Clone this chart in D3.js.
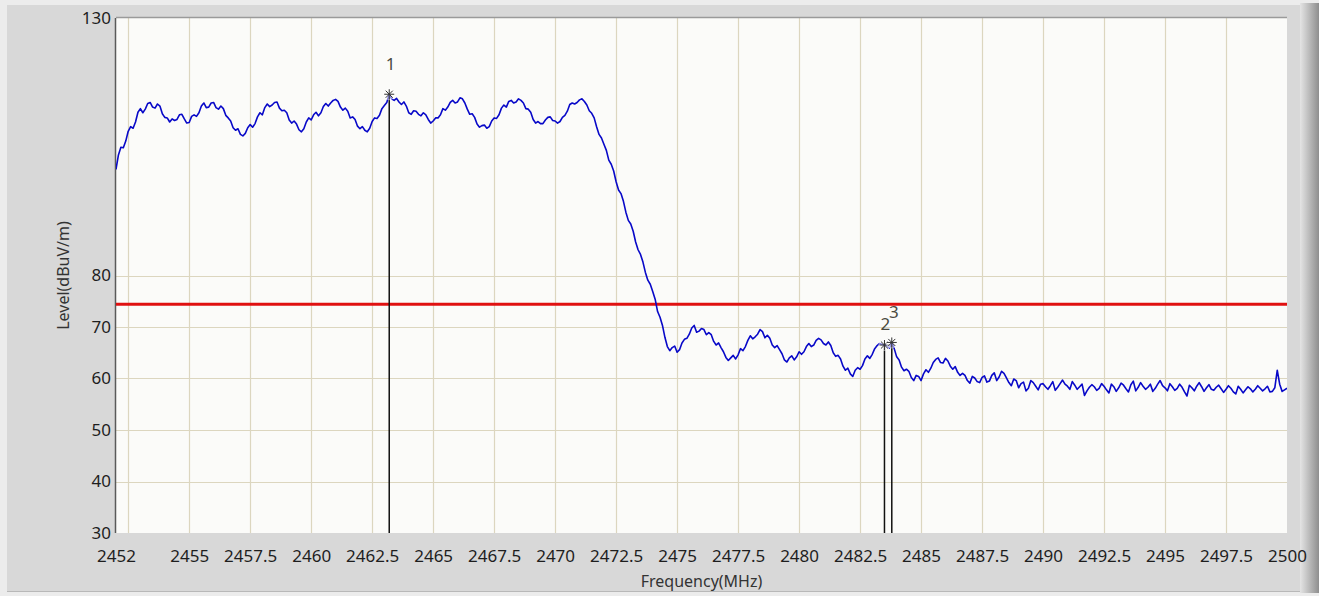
<!DOCTYPE html>
<html>
<head>
<meta charset="utf-8">
<script src="https://cdn.jsdelivr.net/npm/d3@7"></script>
<style>
  body { margin: 0; background: #ececec; overflow: hidden; }
  text { font-family: "Noto Sans", "DejaVu Sans", sans-serif; }
</style>
</head>
<body>
<svg id="chart" width="1319" height="596"></svg>
<script>
// Sweep: 2452 MHz to 2500 MHz, one reading every 0.1 MHz (dBuV/m)
const sweepStart = 2452;
const sweepStep = 0.1;
const levels = [
  100.6,103.4,104.9,104.8,106.1,108.0,108.9,108.6,109.8,111.7,112.4,111.6,112.3,113.4,113.6,112.7,112.5,113.3,112.9,111.4,
  110.7,110.6,109.8,110.4,110.1,110.3,111.2,111.3,110.4,109.6,109.7,110.9,111.2,110.9,111.6,112.9,113.5,112.6,112.7,113.5,
  113.6,112.6,112.3,112.9,112.4,111.1,110.6,110.0,108.7,108.2,108.5,107.4,107.1,107.6,108.7,109.3,108.8,109.5,110.8,111.6,
  111.2,112.6,113.3,112.8,113.1,113.6,113.7,112.5,112.0,112.1,111.6,110.2,109.6,110.0,109.4,108.3,107.9,108.5,109.8,110.6,
  110.2,111.2,111.7,111.0,111.6,112.8,113.4,112.9,113.5,114.0,114.2,113.8,112.7,112.1,112.5,111.9,110.6,110.8,110.3,109.0,
  108.5,108.9,108.2,107.9,108.6,109.9,110.6,110.5,111.1,112.4,113.0,113.6,115.2,114.3,114.0,114.4,113.7,113.2,113.7,112.9,
  111.6,111.3,112.0,111.9,111.3,111.0,111.6,111.2,110.3,109.6,110.0,110.6,110.6,111.2,112.4,112.1,112.7,113.6,114.0,113.5,
  113.7,114.5,114.3,113.5,112.3,111.3,111.4,110.7,109.4,108.8,109.1,109.2,108.6,108.9,110.0,110.6,110.5,111.2,112.5,113.1,
  112.7,113.8,114.0,113.5,113.7,114.3,114.0,113.5,112.4,112.3,111.7,110.3,109.6,109.9,109.5,109.5,110.2,110.7,110.8,110.1,
  110.0,109.6,109.9,110.7,111.1,111.9,113.2,113.5,113.3,113.6,114.1,114.3,113.8,113.1,112.0,111.5,110.6,108.9,107.4,106.7,
  105.5,104.3,102.4,101.6,100.3,98.2,96.6,95.9,94.4,92.3,90.7,90.0,88.6,86.5,85.0,84.1,82.6,80.6,79.1,78.3,
  76.9,75.4,73.0,71.9,70.3,68.0,66.2,65.4,66.0,66.3,65.1,65.6,66.9,67.6,67.8,68.6,69.8,70.3,69.0,69.2,
  69.7,69.5,68.5,68.9,68.5,67.2,66.5,66.9,66.0,65.2,64.1,63.5,64.0,64.5,63.8,64.6,65.8,65.4,66.2,67.4,
  68.3,67.7,68.1,68.6,69.5,69.1,67.9,68.4,67.8,66.5,66.0,66.4,65.6,64.8,63.6,63.2,64.0,64.4,63.6,64.2,
  65.2,64.7,65.2,66.2,66.8,66.2,66.5,67.4,67.8,67.5,66.8,66.5,67.1,66.4,65.0,64.3,64.5,63.8,62.4,61.6,
  62.0,60.9,60.4,61.6,62.1,61.8,62.5,63.8,64.4,63.9,64.7,65.8,66.4,66.8,66.6,66.5,66.4,65.9,67.0,65.8,
  64.2,63.6,62.2,61.5,61.8,61.4,60.2,59.6,60.6,60.4,59.6,60.9,61.7,61.2,62.0,63.1,63.7,64.0,63.1,63.0,
  63.9,63.4,62.4,61.8,62.3,61.2,60.6,61.0,60.6,59.6,59.1,60.4,60.1,59.4,59.2,60.2,60.5,59.3,59.5,60.6,
  61.1,59.6,60.3,61.4,61.0,60.1,59.2,58.6,59.9,59.6,58.2,59.0,59.3,57.6,58.1,59.6,59.2,58.5,57.8,58.9,
  59.0,58.4,57.9,58.6,59.4,57.7,58.3,59.0,59.7,58.9,58.5,57.9,59.4,58.7,57.9,58.4,58.9,56.7,57.6,58.3,
  58.8,58.4,57.7,58.1,59.0,58.5,57.8,57.2,58.9,58.4,57.5,58.2,59.1,58.7,58.0,57.4,58.8,59.5,57.6,58.3,
  59.2,58.5,57.9,58.3,58.9,57.5,58.1,58.9,59.6,58.6,58.2,57.6,59.0,58.4,57.7,58.1,58.9,58.3,57.4,56.6,
  58.7,58.2,57.6,58.5,59.2,58.4,57.5,58.2,58.8,57.9,57.7,58.3,58.7,58.0,57.3,57.9,58.6,58.1,57.4,57.0,
  58.5,57.9,57.2,57.8,58.4,58.0,57.4,57.9,58.6,58.1,57.6,58.0,58.5,57.4,57.5,58.2,61.6,58.9,57.5,57.8,58.1
];

const xTickValues = [2452, 2455, 2457.5, 2460, 2462.5, 2465, 2467.5, 2470, 2472.5, 2475,
  2477.5, 2480, 2482.5, 2485, 2487.5, 2490, 2492.5, 2495, 2497.5, 2500];
const xGridValues = [2452.5, 2455, 2457.5, 2460, 2462.5, 2465, 2467.5, 2470, 2472.5, 2475,
  2477.5, 2480, 2482.5, 2485, 2487.5, 2490, 2492.5, 2495, 2497.5];
const yTickValues = [30, 40, 50, 60, 70, 80, 130];
const yGridValues = [40, 50, 60, 70, 80];

const limitLevel = 74.4;

const markerIds = ["1", "2", "3"];
const markerFreqs = [2463.2, 2483.5, 2483.8];
const markerLevels = [115.2, 66.5, 67.0];

const xTitle = "Frequency(MHz)";
const yTitle = "Level(dBuV/m)";

// ---- drawing ----
const W = 1319, H = 596;
const plot = { left: 116, top: 18, right: 1287, bottom: 533 };

const svg = d3.select("#chart");
const defs = svg.append("defs");

const edge = defs.append("linearGradient").attr("id", "edgeShade")
  .attr("x1", 0).attr("x2", 1).attr("y1", 0).attr("y2", 0);
edge.append("stop").attr("offset", "0%").attr("stop-color", "#e4e4e4");
edge.append("stop").attr("offset", "25%").attr("stop-color", "#cfcfcf");
edge.append("stop").attr("offset", "100%").attr("stop-color", "#8e8e8e");

defs.append("clipPath").attr("id", "plotClip")
  .append("rect")
  .attr("x", plot.left).attr("y", plot.top)
  .attr("width", plot.right - plot.left).attr("height", plot.bottom - plot.top);

// window panel
svg.append("rect").attr("x", 0).attr("y", 0).attr("width", W).attr("height", H).attr("fill", "#ececec");
svg.append("rect").attr("x", 7).attr("y", 5).attr("width", 1294).attr("height", 586).attr("fill", "#d8d8d8");
svg.append("rect").attr("x", 1300).attr("y", 3).attr("width", 19).attr("height", 590).attr("fill", "url(#edgeShade)");
svg.append("line").attr("x1", 7).attr("x2", 1300).attr("y1", 591.5).attr("y2", 591.5)
  .attr("stroke", "#b8b8b8").attr("stroke-width", 1);

const x = d3.scaleLinear().domain([2452, 2500]).range([plot.left, plot.right]);
const y = d3.scaleLinear().domain([30, 130]).range([plot.bottom, plot.top]);

// plot background
svg.append("rect")
  .attr("x", plot.left).attr("y", plot.top)
  .attr("width", plot.right - plot.left).attr("height", plot.bottom - plot.top)
  .attr("fill", "#fbfbf9");

// grid
const grid = svg.append("g").attr("stroke", "#dcd6bf").attr("stroke-width", 1.2);
grid.selectAll("line.v").data(xGridValues).join("line").attr("class", "v")
  .attr("x1", d => Math.round(x(d)) + 0.5).attr("x2", d => Math.round(x(d)) + 0.5)
  .attr("y1", plot.top).attr("y2", plot.bottom);
grid.selectAll("line.h").data(yGridValues).join("line").attr("class", "h")
  .attr("y1", d => Math.round(y(d)) + 0.5).attr("y2", d => Math.round(y(d)) + 0.5)
  .attr("x1", plot.left).attr("x2", plot.right);

// frame
svg.append("line").attr("x1", plot.left).attr("x2", plot.right)
  .attr("y1", plot.top - 0.5).attr("y2", plot.top - 0.5)
  .attr("stroke", "#9a9a9a").attr("stroke-width", 1.5);
svg.append("line").attr("x1", plot.left - 0.5).attr("x2", plot.left - 0.5)
  .attr("y1", plot.top).attr("y2", plot.bottom)
  .attr("stroke", "#5a5a5a").attr("stroke-width", 1.5);

// limit line
svg.append("line")
  .attr("x1", plot.left).attr("x2", plot.right)
  .attr("y1", y(limitLevel)).attr("y2", y(limitLevel))
  .attr("stroke", "#e01010").attr("stroke-width", 3);

// marker drop lines
const markers = markerIds.map((id, i) => ({ id, f: markerFreqs[i], v: markerLevels[i] }));
svg.append("g").selectAll("line").data(markers).join("line")
  .attr("x1", d => x(d.f)).attr("x2", d => x(d.f))
  .attr("y1", d => y(d.v)).attr("y2", plot.bottom)
  .attr("stroke", "#111").attr("stroke-width", 1.5);

// trace
const trace = levels.map((v, i) => [sweepStart + i * sweepStep, v]);
svg.append("path")
  .datum(trace)
  .attr("clip-path", "url(#plotClip)")
  .attr("fill", "none")
  .attr("stroke", "#0808c8")
  .attr("stroke-width", 1.6)
  .attr("stroke-linejoin", "round")
  .attr("d", d3.line().x(d => x(d[0])).y(d => y(d[1])));

// marker stars
const starR = 5;
const stars = svg.append("g").selectAll("g").data(markers).join("g")
  .attr("transform", d => `translate(${x(d.f)},${y(d.v)})`);
stars.append("circle").attr("r", 6).attr("fill", "#ffffff").attr("opacity", 0.5);
[0, 45, 90, 135].forEach(a => {
  const r = a * Math.PI / 180;
  stars.append("line")
    .attr("x1", -starR * Math.cos(r)).attr("y1", -starR * Math.sin(r))
    .attr("x2", starR * Math.cos(r)).attr("y2", starR * Math.sin(r))
    .attr("stroke", "#333").attr("stroke-width", 1);
});

// marker labels
const labelOffset = { "1": [1.5, -31], "2": [1, -22], "3": [2, -31] };
svg.append("g").selectAll("text").data(markers).join("text")
  .attr("x", d => x(d.f) + labelOffset[d.id][0])
  .attr("y", d => y(d.v) + labelOffset[d.id][1])
  .attr("text-anchor", "middle")
  .attr("dominant-baseline", "central")
  .attr("font-size", 17)
  .attr("fill", "#4a4a40")
  .text(d => d.id);

// axes
const xAxis = d3.axisBottom(x).tickValues(xTickValues).tickSize(0).tickPadding(17)
  .tickFormat(d3.format(""));
const gx = svg.append("g").attr("transform", `translate(0,${plot.bottom})`).call(xAxis);
gx.select(".domain").remove();
gx.selectAll("text").attr("font-size", 17).attr("fill", "#1e1e1e")
  .style("font-family", '"Noto Sans", sans-serif');

const yAxis = d3.axisLeft(y).tickValues(yTickValues).tickSize(0).tickPadding(5)
  .tickFormat(d3.format(""));
const gy = svg.append("g").attr("transform", `translate(${plot.left},0)`).call(yAxis);
gy.select(".domain").remove();
gy.selectAll("text").attr("font-size", 17).attr("fill", "#1e1e1e")
  .style("font-family", '"Noto Sans", sans-serif');

// axis titles
svg.append("text")
  .attr("x", (plot.left + plot.right) / 2).attr("y", 587)
  .attr("text-anchor", "middle").attr("font-size", 16).attr("fill", "#333")
  .text(xTitle);
svg.append("text")
  .attr("transform", `translate(69,${(plot.top + plot.bottom) / 2}) rotate(-90)`)
  .attr("text-anchor", "middle").attr("font-size", 16).attr("fill", "#333")
  .text(yTitle);
</script>
</body>
</html>
